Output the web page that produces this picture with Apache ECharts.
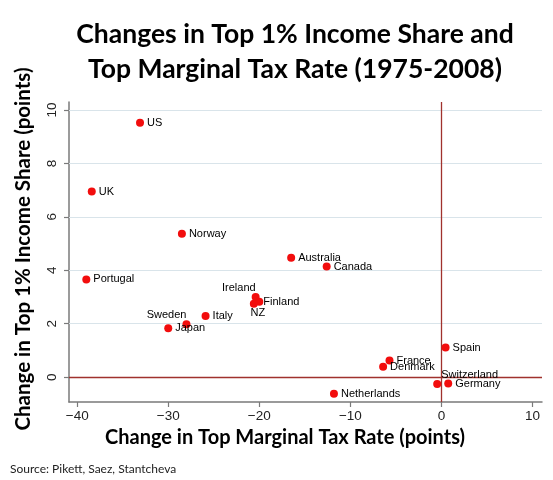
<!DOCTYPE html>
<html>
<head>
<meta charset="utf-8">
<script src="https://cdn.jsdelivr.net/npm/echarts@6/dist/echarts.min.js"></script>
<style>
  html, body { margin: 0; padding: 0; background: #fff; }
  #chart { width: 553px; height: 480px; }
</style>
</head>
<body>
<div id="chart"></div>
<script>
// data
var countries = ['US', 'UK', 'Norway', 'Portugal', 'Australia', 'Canada', 'Ireland', 'Finland', 'NZ',
  'Italy', 'Sweden', 'Japan', 'Spain', 'France', 'Denmark', 'Switzerland', 'Germany', 'Netherlands'];
var taxChange = [-33.1, -38.4, -28.5, -39.0, -16.5, -12.6, -20.4, -20.0, -20.6,
  -25.9, -28.0, -30.0, 0.46, -5.7, -6.4, -0.46, 0.75, -11.8];
var shareChange = [9.52, 6.95, 5.37, 3.66, 4.47, 4.14, 3.0, 2.82, 2.75,
  2.29, 1.98, 1.83, 1.11, 0.62, 0.39, -0.26, -0.24, -0.62];
var xTicks = [-40, -30, -20, -10, 0, 10];
var yTicks = [0, 2, 4, 6, 8, 10];

// label placement for the crowded points
var labelSpot = {
  Ireland: { position: 'top', align: 'right', distance: 0 },
  Sweden: { position: 'top', align: 'right', distance: 0 },
  NZ: { position: 'bottom', distance: 0, offset: [4, 0] },
  Switzerland: { position: 'top', align: 'left', distance: 0, offset: [4, 0] },
  Finland: { position: 'right', distance: 0 }
};

var points = countries.map(function (c, i) {
  var item = { name: c, value: [taxChange[i], shareChange[i]] };
  if (labelSpot[c]) item.label = labelSpot[c];
  return item;
});

function minus(v) {
  return v < 0 ? '\u2212' + Math.abs(v) : String(v);
}

var titleFont = 'Lato, "Open Sans", sans-serif';
var tickFont = '"Liberation Sans", Arial, sans-serif';

var option = {
  animation: false,
  backgroundColor: '#fff',
  title: [{
    text: 'Changes in Top 1% Income Share and\nTop Marginal Tax Rate (1975-2008)',
    left: 290,
    top: 12,
    textAlign: 'center',
    textStyle: { fontFamily: titleFont, fontWeight: 'bold', fontSize: 26.5, lineHeight: 35, color: '#000' }
  }, {
    text: 'Source: Pikett, Saez, Stantcheva',
    left: 5,
    top: 458,
    textStyle: { fontFamily: titleFont, fontWeight: 'normal', fontSize: 12, color: '#222' }
  }],
  graphic: [{
    type: 'text',
    x: 285, y: 438,
    style: {
      text: 'Change in Top Marginal Tax Rate (points)',
      font: 'bold 20px ' + titleFont,
      fill: '#000', align: 'center', verticalAlign: 'middle'
    }
  }, {
    type: 'text',
    x: 23, y: 249,
    rotation: Math.PI / 2,
    style: {
      text: 'Change in Top 1% Income Share (points)',
      font: 'bold 20.5px ' + titleFont,
      fill: '#000', align: 'center', verticalAlign: 'middle'
    }
  }],
  grid: { left: 69, right: 11, top: 102, bottom: 78, outerBoundsMode: 'none' },
  xAxis: {
    type: 'value',
    min: -40.9,
    max: 11.05,
    axisLine: { onZero: false, lineStyle: { color: '#7a7a7a', width: 1.5 } },
    axisTick: { customValues: xTicks, length: 5, lineStyle: { color: '#7a7a7a', width: 1.2 } },
    axisLabel: {
      customValues: xTicks, margin: 7, formatter: minus,
      fontFamily: tickFont, fontSize: 13.5, color: '#222'
    },
    splitLine: { show: false }
  },
  yAxis: {
    type: 'value',
    min: -0.93,
    max: 10.3,
    axisLine: { onZero: false, lineStyle: { color: '#7a7a7a', width: 1.5 } },
    axisTick: { customValues: yTicks, length: 5, lineStyle: { color: '#7a7a7a', width: 1.2 } },
    axisLabel: {
      customValues: yTicks, rotate: 90, margin: 10, formatter: minus,
      fontFamily: tickFont, fontSize: 13.5, color: '#222'
    },
    splitLine: { show: false }
  },
  series: [{
    type: 'scatter',
    symbolSize: 8,
    itemStyle: { color: '#f20d0d', opacity: 1 },
    label: {
      show: true,
      position: 'right',
      distance: 3,
      formatter: '{b}',
      fontFamily: tickFont,
      fontSize: 11,
      color: '#000'
    },
    markLine: {
      silent: true,
      symbol: 'none',
      label: { show: false },
      z: 1,
      data: yTicks.filter(function (v) { return v !== 0; }).map(function (v) {
        return { yAxis: v, lineStyle: { color: '#d9e4ea', width: 1, type: 'solid' } };
      }).concat([
        { yAxis: 0, lineStyle: { color: '#a0322d', width: 1.3, type: 'solid' } },
        { xAxis: 0, lineStyle: { color: '#a0322d', width: 1.3, type: 'solid' } }
      ])
    },
    data: points
  }]
};

var chart = echarts.init(document.getElementById('chart'));
chart.setOption(option);
</script>
</body>
</html>
